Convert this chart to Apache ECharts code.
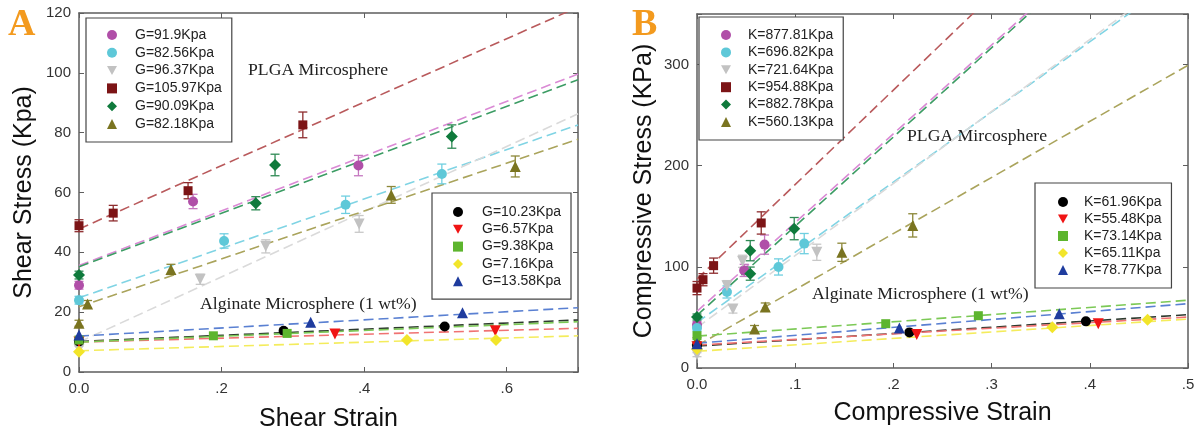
<!DOCTYPE html>
<html><head><meta charset="utf-8">
<script src="https://cdn.jsdelivr.net/npm/echarts@6/dist/echarts.min.js"></script>
<style>html,body{margin:0;padding:0;background:#fff}#c{width:1198px;height:440px}</style>
</head><body><div id="c"></div>
<script>
// ---------- Panel A: shear ----------
const aNames = ['G=91.9Kpa','G=82.56Kpa','G=96.37Kpa','G=105.97Kpa','G=90.09Kpa','G=82.18Kpa',
                'G=10.23Kpa','G=6.57Kpa','G=9.38Kpa','G=7.16Kpa','G=13.58Kpa'];
const aX = [
  [0, 0.16, 0.392],
  [0, 0.2035, 0.374, 0.509],
  [0, 0.17, 0.262, 0.393],
  [0, 0.048, 0.153, 0.314],
  [0, 0.248, 0.275, 0.523],
  [0, 0.012, 0.129, 0.438, 0.612],
  [0, 0.287, 0.513],
  [0, 0.359, 0.584],
  [0, 0.1885, 0.292],
  [0, 0.46, 0.585],
  [0, 0.325, 0.538]
];
const aY = [
  [29, 57, 69],
  [24, 43.8, 55.9, 66.2],
  [7.6, 31, 42, 49.5],
  [48.9, 53.1, 60.6, 82.6],
  [32.4, 56.4, 69.2, 78.7],
  [16.3, 22.7, 34.3, 59.2, 68.7],
  [10.2, 13.8, 15.2],
  [10, 12.7, 13.8],
  [10.7, 12.1, 12.9],
  [6.8, 10.7, 10.7],
  [12.4, 16.6, 19.8]
];
const aErr = [
  [1.3, 2.4, 3.4],
  [1.3, 2.4, 2.9, 3.3],
  [1, 1.7, 2.2, 2.8],
  [2, 2.6, 2.7, 4.3],
  [1.3, 2.2, 3.6, 3.9],
  [1, 1.2, 1.7, 2.8, 3.5],
  [0, 0, 0], [0, 0, 0], [0, 0, 0], [0, 0, 0], [0, 0, 0]
];
const aFitX = [0, 0.7];
const aFitStart = [35.6, 24.8, 10, 47.8, 35.2, 21.8, 10.2, 10.0, 10.0, 7.1, 12.0];
const aFitEnd   = [99.6, 82.6, 86.3, 122, 97.7, 77.8, 17.4, 14.6, 16.8, 12.1, 21.5];
const aXTicks = [0, 0.2, 0.4, 0.6];
const aXTickLabels = ['0.0', '.2', '.4', '.6'];
const aYTicks = [0, 20, 40, 60, 80, 100, 120];
const aYTickLabels = ['0', '20', '40', '60', '80', '100', '120'];

// ---------- Panel B: compressive ----------
const bNames = ['K=877.81Kpa','K=696.82Kpa','K=721.64Kpa','K=954.88Kpa','K=882.78Kpa','K=560.13Kpa',
                'K=61.96Kpa','K=55.48Kpa','K=73.14Kpa','K=65.11Kpa','K=78.77Kpa'];
const bX = [
  [0, 0.048, 0.0688],
  [0, 0.0305, 0.083, 0.1092],
  [0, 0.0305, 0.0366, 0.0464, 0.122],
  [0, 0.0061, 0.0169, 0.0654],
  [0, 0.0542, 0.0542, 0.099],
  [0, 0.0586, 0.0695, 0.1475, 0.2197],
  [0, 0.2163, 0.396],
  [0, 0.2238, 0.4086],
  [0, 0.1922, 0.2865],
  [0, 0.3618, 0.4588],
  [0, 0.2061, 0.3689]
];
const bY = [
  [42.8, 96.5, 122],
  [39.6, 75.2, 99.9, 123],
  [13.2, 81.4, 58.3, 105.5, 114.4],
  [79, 87.3, 101.2, 143.4],
  [50.4, 116, 93.3, 137.8],
  [28, 38.5, 60.3, 114.4, 141],
  [22, 35.2, 46.1],
  [21, 33, 43.8],
  [32, 43.8, 51.7],
  [18.8, 40.2, 47.8],
  [24, 39.6, 53.7]
];
const bErr = [
  [3, 6, 9.5],
  [3, 6, 8, 10],
  [2, 5, 4, 6, 8],
  [6.5, 6, 7.5, 11],
  [3, 10, 6.5, 11],
  [2, 3.5, 4, 9, 11.5],
  [0, 0, 0], [0, 0, 0], [0, 0, 0], [0, 0, 0], [0, 0, 0]
];
const bFitX = [0, 0.5];
const bFitStart = [56, 45, 40, 88, 52, 22, 21.7, 22.7, 31.5, 16.5, 24.5];
const bFitEnd   = [495, 392, 396, 555, 493, 299.3, 52.7, 50.4, 67, 48.4, 63.6];
const bXTicks = [0, 0.1, 0.2, 0.3, 0.4, 0.5];
const bXTickLabels = ['0.0', '.1', '.2', '.3', '.4', '.5'];
const bYTicks = [0, 100, 200, 300];
const bYTickLabels = ['0', '100', '200', '300'];

// ---------- styles (shared by both panels, same order) ----------
const DOWN = 'path://M0,0L10,0L5,9Z';
const styles = [
  {symbol:'circle',   size:10, color:'#b04fa8', line:'#da8ad5', err:'#c577c0'},
  {symbol:'circle',   size:10, color:'#5ec8d8', line:'#80d4e4', err:'#6fcfe0'},
  {symbol:DOWN,       size:11, color:'#c2c2c2', line:'#dadada', err:'#c8c8c8'},
  {symbol:'rect',     size:9,  color:'#7c1416', line:'#b95a5c', err:'#8e2c2e'},
  {symbol:'diamond',  size:12, color:'#0f7a3c', line:'#3c9c64', err:'#2f8a55'},
  {symbol:'triangle', size:11, color:'#7a7420', line:'#aaa45c', err:'#8c8738'},
  {symbol:'circle',   size:10, color:'#000000', line:'#2e3a2e', err:'#333333'},
  {symbol:DOWN,       size:11, color:'#f01414', line:'#f07272', err:'#f05050'},
  {symbol:'rect',     size:9,  color:'#5db52e', line:'#7cc956', err:'#6bbf40'},
  {symbol:'diamond',  size:12, color:'#f2e52a', line:'#f4ec5c', err:'#eee040'},
  {symbol:'triangle', size:11, color:'#1f3c9e', line:'#5a80d2', err:'#3a5cb8'}
];

const FONT = '"Liberation Sans", Arial, sans-serif';
const SERIF = '"Liberation Serif", "Times New Roman", serif';
const AXC = '#5e5e5e';

function fmt(ticks, labels) {
  return v => { const k = ticks.findIndex(t => Math.abs(t - v) < 1e-6); return k < 0 ? '' : labels[k]; };
}
function mainX(grid, min, max, interval, ticks, labels, name, gap) {
  return {type:'value', gridIndex:grid, position:'bottom', min, max, interval,
    name, nameLocation:'middle', nameGap:gap,
    nameTextStyle:{fontFamily:FONT, fontSize:25, color:'#111'},
    axisLine:{lineStyle:{color:AXC, width:1.5}},
    axisTick:{inside:true, length:5, lineStyle:{color:AXC}},
    axisLabel:{fontFamily:FONT, fontSize:15, color:'#333', margin:9, formatter:fmt(ticks, labels), showMaxLabel:true},
    splitLine:{show:false}};
}
function mainY(grid, min, max, interval, ticks, labels, name, gap) {
  return {type:'value', gridIndex:grid, position:'left', min, max, interval,
    name, nameLocation:'middle', nameGap:gap,
    nameTextStyle:{fontFamily:FONT, fontSize:25, color:'#111'},
    axisLine:{lineStyle:{color:AXC, width:1.5}},
    axisTick:{inside:true, length:5, lineStyle:{color:AXC}},
    axisLabel:{fontFamily:FONT, fontSize:15, color:'#333', margin:8, formatter:fmt(ticks, labels)},
    splitLine:{show:false}};
}
function sideAxis(grid, pos, min, max, interval) {
  return {type:'value', gridIndex:grid, position:pos, min, max, interval,
    axisLine:{show:true, onZero:false, lineStyle:{color:AXC, width:1.5}},
    axisTick:{show:true, inside:true, length:5, lineStyle:{color:AXC}},
    axisLabel:{show:false}, splitLine:{show:false}};
}

const series = [];
function addPanel(names, X, Y, E, fitX, fitS, fitE, axisIdx) {
  names.forEach((n, i) => {
    series.push({type:'line', name:'_fit' + n, xAxisIndex:axisIdx, yAxisIndex:axisIdx,
      data:[[fitX[0], fitS[i]], [fitX[1], fitE[i]]], symbol:'none', silent:true, clip:true, z:2,
      lineStyle:{color:styles[i].line, width:1.6, type:[10, 5]}});
  });
  const errData = [];
  names.forEach((n, i) => X[i].forEach((x, j) => { if (E[i][j] > 0) errData.push([x, Y[i][j], E[i][j], i]); }));
  series.push({type:'custom', name:'_err' + axisIdx, xAxisIndex:axisIdx, yAxisIndex:axisIdx, z:3, silent:true,
    data:errData, encode:{x:0, y:1},
    renderItem:(params, api) => {
      const x = api.value(0), y = api.value(1), e = api.value(2), ci = api.value(3);
      const t = api.coord([x, y + e]), b = api.coord([x, y - e]);
      const hw = 4.5;
      const st = {stroke:styles[ci].err, lineWidth:1.3};
      return {type:'group', children:[
        {type:'line', shape:{x1:t[0], y1:t[1], x2:b[0], y2:b[1]}, style:st},
        {type:'line', shape:{x1:t[0]-hw, y1:t[1], x2:t[0]+hw, y2:t[1]}, style:st},
        {type:'line', shape:{x1:b[0]-hw, y1:b[1], x2:b[0]+hw, y2:b[1]}, style:st}
      ]};
    }});
  names.forEach((n, i) => {
    series.push({type:'scatter', name:n, xAxisIndex:axisIdx, yAxisIndex:axisIdx, z:4,
      symbol:styles[i].symbol, symbolSize:styles[i].size,
      itemStyle:{color:styles[i].color, opacity:1},
      data:X[i].map((x, j) => [x, Y[i][j]])});
  });
}
// axis indices: A main = 0, B main = 2 (x and y)
addPanel(aNames, aX, aY, aErr, aFitX, aFitStart, aFitEnd, 0);
addPanel(bNames, bX, bY, bErr, bFitX, bFitStart, bFitEnd, 2);

function legend(data, left, top, pad, gap, textPad) {
  return {data:data.map(d => ({name:d})), orient:'vertical', left, top, padding:pad, itemGap:gap,
    itemWidth:10, itemHeight:10, selectedMode:false, symbolKeepAspect:true,
    textStyle:{fontFamily:FONT, fontSize:14, color:'#222', padding:[0, 0, 0, textPad]},
    borderColor:'#444', borderWidth:1.2, backgroundColor:'#fff'};
}

const option = {
  animation:false,
  backgroundColor:'#fff',
  grid:[
    {left:79, top:13, width:499, height:359},
    {left:697, top:14, width:491, height:354}
  ],
  xAxis:[
    mainX(0, 0, 0.7, 0.2, aXTicks, aXTickLabels, 'Shear Strain', 35),
    sideAxis(0, 'top', 0, 0.7, 0.2),
    mainX(1, 0, 0.5, 0.1, bXTicks, bXTickLabels, 'Compressive Strain', 33),
    sideAxis(1, 'top', 0, 0.5, 0.1)
  ],
  yAxis:[
    mainY(0, 0, 120, 20, aYTicks, aYTickLabels, 'Shear Stress (Kpa)', 42),
    sideAxis(0, 'right', 0, 120, 20),
    mainY(1, 0, 350, 100, bYTicks, bYTickLabels, 'Compressive Stress (KPa)', 40),
    sideAxis(1, 'right', 0, 350, 100)
  ],
  legend:[
    legend(aNames.slice(0, 6), 86, 18, [10, 10, 11, 21], 3.8, 13),
    legend(aNames.slice(6), 432, 193, [12, 10, 11, 21], 3.3, 14),
    legend(bNames.slice(0, 6), 699, 17, [11, 10, 11, 22], 3.4, 12),
    legend(bNames.slice(6), 1035, 183, [12, 10, 11, 23], 3, 11)
  ],
  graphic:[
    {type:'text', left:8, top:6, style:{text:'A', font:'bold 38px ' + SERIF, fill:'#f39a1e'}},
    {type:'text', left:632, top:6, style:{text:'B', font:'bold 38px ' + SERIF, fill:'#f39a1e'}},
    {type:'text', left:248, top:61, style:{text:'PLGA Mircosphere', font:'17.7px ' + SERIF, fill:'#222'}},
    {type:'text', left:200, top:295, style:{text:'Alginate Microsphere (1 wt%)', font:'17.7px ' + SERIF, fill:'#222'}},
    {type:'text', left:907, top:127, style:{text:'PLGA Mircosphere', font:'17.7px ' + SERIF, fill:'#222'}},
    {type:'text', left:812, top:285, style:{text:'Alginate Microsphere (1 wt%)', font:'17.7px ' + SERIF, fill:'#222'}}
  ],
  series
};
const chart = echarts.init(document.getElementById('c'));
chart.setOption(option);
</script>
</body></html>
